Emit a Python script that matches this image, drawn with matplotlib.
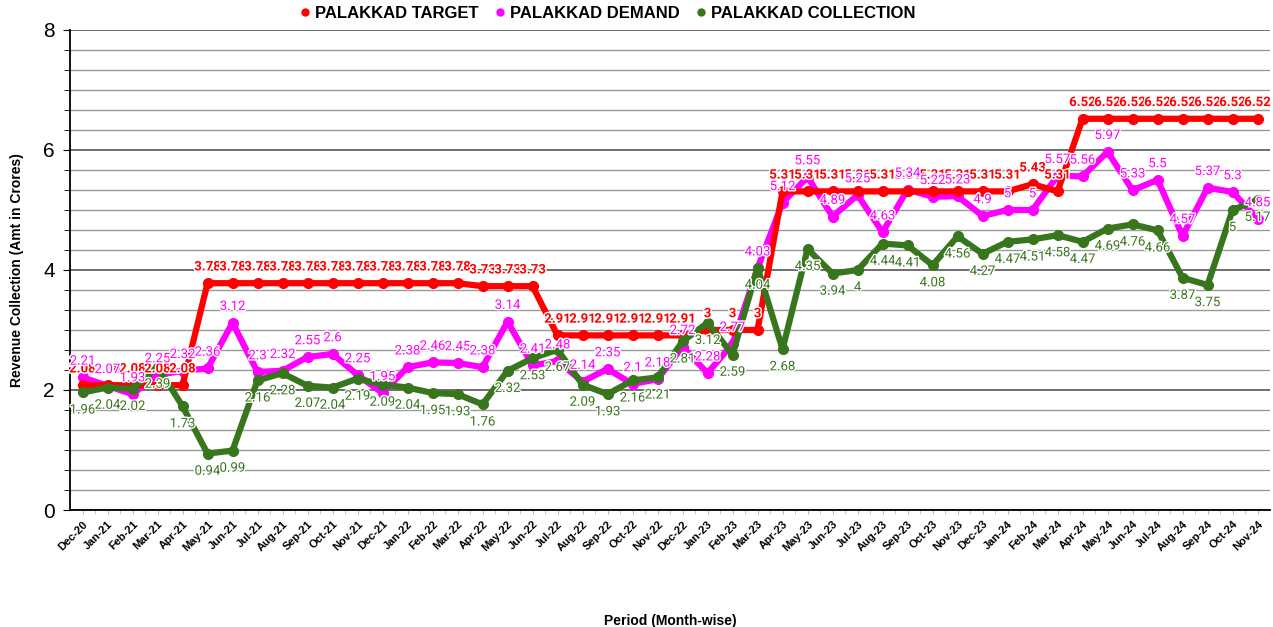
import matplotlib
matplotlib.use("Agg")
import matplotlib.pyplot as plt
import matplotlib.patheffects as pe
from matplotlib.ticker import MultipleLocator
from matplotlib.lines import Line2D

months = ["Dec-20", "Jan-21", "Feb-21", "Mar-21", "Apr-21", "May-21", "Jun-21", "Jul-21", "Aug-21",
          "Sep-21", "Oct-21", "Nov-21", "Dec-21", "Jan-22", "Feb-22", "Mar-22", "Apr-22", "May-22",
          "Jun-22", "Jul-22", "Aug-22", "Sep-22", "Oct-22", "Nov-22", "Dec-22", "Jan-23", "Feb-23",
          "Mar-23", "Apr-23", "May-23", "Jun-23", "Jul-23", "Aug-23", "Sep-23", "Oct-23", "Nov-23",
          "Dec-23", "Jan-24", "Feb-24", "Mar-24", "Apr-24", "May-24", "Jun-24", "Jul-24", "Aug-24",
          "Sep-24", "Oct-24", "Nov-24"]

target = [2.08, 2.08, 2.08, 2.08, 2.08,
          3.78, 3.78, 3.78, 3.78, 3.78, 3.78, 3.78, 3.78, 3.78, 3.78, 3.78,
          3.73, 3.73, 3.73,
          2.91, 2.91, 2.91, 2.91, 2.91, 2.91,
          3, 3, 3,
          5.31, 5.31, 5.31, 5.31, 5.31, 5.31, 5.31, 5.31, 5.31, 5.31,
          5.43, 5.31,
          6.52, 6.52, 6.52, 6.52, 6.52, 6.52, 6.52, 6.52]

demand = [2.21, 2.07, 1.93, 2.25, 2.32, 2.36, 3.12, 2.3, 2.32, 2.55, 2.6, 2.25, 1.95,
          2.38, 2.46, 2.45, 2.38, 3.14, 2.41, 2.48, 2.14, 2.35, 2.1, 2.18, 2.72,
          2.28, 2.77, 4.03, 5.12, 5.55, 4.89, 5.25, 4.63, 5.34, 5.22, 5.23, 4.9,
          5, 5, 5.57, 5.56, 5.97, 5.33, 5.5, 4.57, 5.37, 5.3, 4.85]

collection = [1.96, 2.04, 2.02, 2.39, 1.73, 0.94, 0.99, 2.16, 2.28, 2.07, 2.04, 2.19, 2.09,
              2.04, 1.95, 1.93, 1.76, 2.32, 2.53, 2.67, 2.09, 1.93, 2.16, 2.21, 2.81,
              3.12, 2.59, 4.04, 2.68, 4.35, 3.94, 4, 4.44, 4.41, 4.08, 4.56, 4.27,
              4.47, 4.51, 4.58, 4.47, 4.69, 4.76, 4.66, 3.87, 3.75, 5, 5.17]

series_names = ["PALAKKAD TARGET", "PALAKKAD DEMAND", "PALAKKAD COLLECTION"]
colors = ["#ff0000", "#ff00ff", "#38761d"]

def fmt(v):
    return ("%.2f" % v).rstrip("0").rstrip(".")

fig = plt.figure(figsize=(12.73, 6.27), dpi=100)
ax = fig.add_axes([0.055, 0.1866, 0.9427, 0.7656])

x = list(range(len(months)))
ax.set_xlim(-0.5, len(months) - 0.5)
ax.set_ylim(0, 8)

ax.yaxis.set_major_locator(MultipleLocator(2))
ax.yaxis.set_minor_locator(MultipleLocator(2 / 6))
ax.grid(which="major", axis="y", color="#555555", linewidth=1.2)
ax.grid(which="minor", axis="y", color="#999999", linewidth=1.0)
ax.set_axisbelow(True)

for s in ["top", "right"]:
    ax.spines[s].set_visible(False)
ax.spines["left"].set_color("black")
ax.spines["bottom"].set_color("black")
ax.spines["left"].set_linewidth(1.3)
ax.spines["bottom"].set_linewidth(1.3)

ax.tick_params(axis="y", which="major", length=5, labelsize=15, pad=6)
ax.tick_params(axis="y", which="minor", length=4)
for lab in ax.get_yticklabels():
    lab.set_fontfamily("Liberation Sans")

ax.set_xticks(x)
ax.set_xticklabels(months, rotation=45, ha="right", rotation_mode="anchor",
                   fontsize=8, fontweight="bold", fontfamily="Liberation Sans")
ax.tick_params(axis="x", length=3, color="#bbbbbb")
ax.set_xticks([i + 0.5 for i in x[:-1]], minor=True)
ax.tick_params(axis="x", which="minor", length=3, color="#bbbbbb")

ax.set_ylabel("Revenue Collection (Amt in Crores)", fontsize=10, fontweight="bold",
              fontfamily="Liberation Sans", labelpad=14)
ax.set_xlabel("Period (Month-wise)", fontsize=10, fontweight="bold",
              fontfamily="Liberation Sans", labelpad=44)

halo = [pe.withStroke(linewidth=2, foreground="white")]

ax.plot(x, target, color=colors[0], linewidth=4.5, marker="o", markersize=7, zorder=4)
ax.plot(x, demand, color=colors[1], linewidth=4.5, marker="o", markersize=7, zorder=3)
ax.plot(x, collection, color=colors[2], linewidth=4.5, marker="o", markersize=7, zorder=5)

for i in x:
    ax.annotate(fmt(target[i]), (i, target[i]), xytext=(0, 7), textcoords="offset points",
                ha="center", va="bottom", fontsize=9.5, fontweight="bold", color=colors[0],
                fontfamily="Roboto", path_effects=halo, zorder=7)
    ax.annotate(fmt(demand[i]), (i, demand[i]), xytext=(0, 7), textcoords="offset points",
                ha="center", va="bottom", fontsize=9.5, color=colors[1],
                fontfamily="Roboto", path_effects=halo, zorder=8)
    ax.annotate(fmt(collection[i]), (i, collection[i]), xytext=(0, -8), textcoords="offset points",
                ha="center", va="top", fontsize=9.5, color=colors[2],
                fontfamily="Roboto", path_effects=halo, zorder=8)

handles = [Line2D([], [], linestyle="none", marker="o", markersize=5, color=c) for c in colors]
fig.legend(handles, series_names, loc="upper center", bbox_to_anchor=(0.476, 1.014), ncol=3,
           frameon=False, handletextpad=0.1, columnspacing=0.8, handlelength=1.0,
           prop={"family": "Liberation Sans", "weight": "bold", "size": 12})

fig.savefig("out.png", dpi=100)
